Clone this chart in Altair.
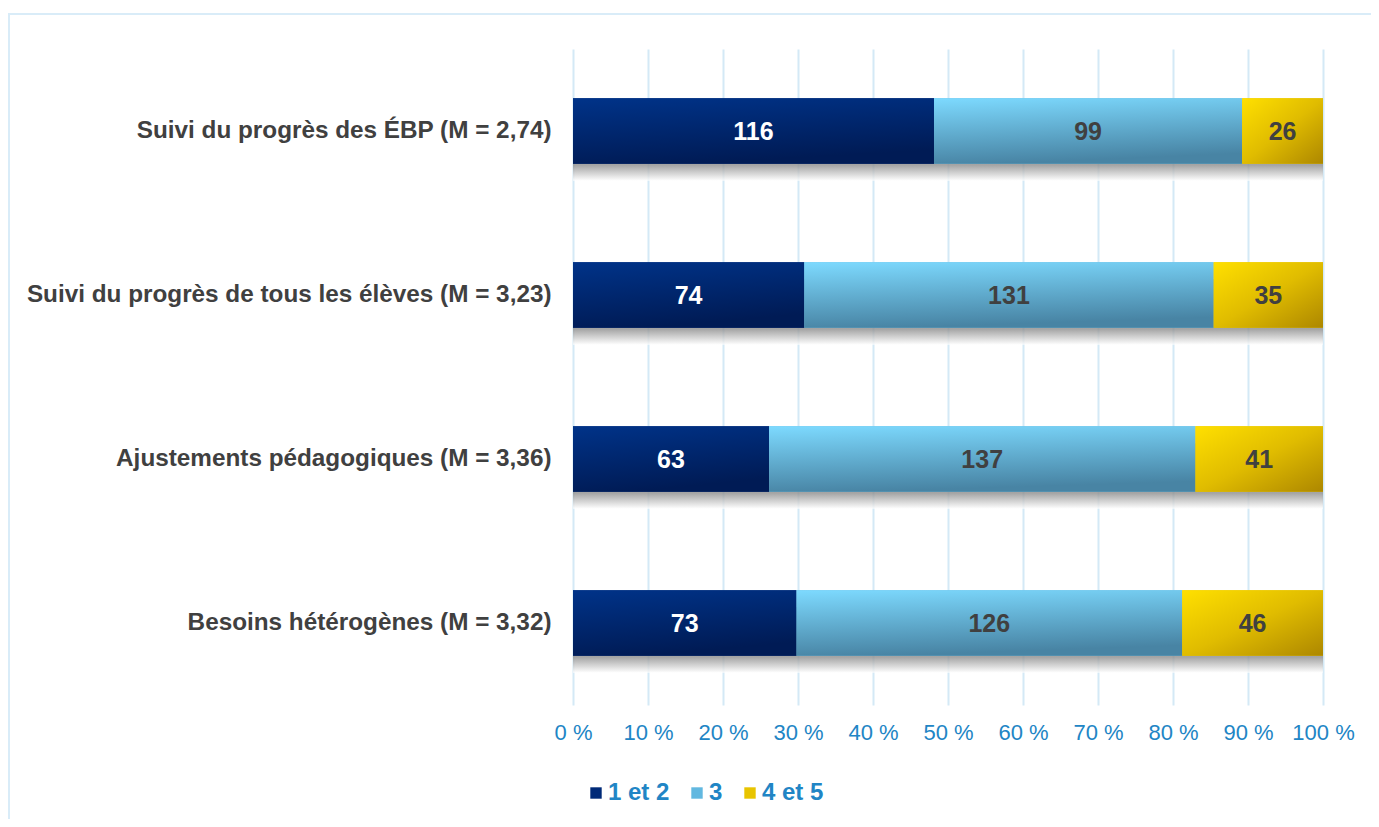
import altair as alt
import pandas as pd

categories = [
    "Suivi du progrès des ÉBP (M = 2,74)",
    "Suivi du progrès de tous les élèves (M = 3,23)",
    "Ajustements pédagogiques (M = 3,36)",
    "Besoins hétérogènes (M = 3,32)",
]
series = ["1 et 2", "3", "4 et 5"]
v_12 = [116, 74, 63, 73]
v_3 = [99, 131, 137, 126]
v_45 = [26, 35, 41, 46]

solid_colors = ["#002a78", "#62b8e0", "#e8c400"]
label_colors = ["#ffffff", "#404040", "#404040"]

rows = []
for i, c in enumerate(categories):
    for j, (s, vals) in enumerate(zip(series, [v_12, v_3, v_45])):
        rows.append({"cat": c, "serie": s, "ord": j, "value": vals[i]})
df = pd.DataFrame(rows)

FONT = "Liberation Sans"
W, H = 750, 656

yenc = alt.Y(
    "cat:N",
    sort=categories,
    title=None,
    scale=alt.Scale(paddingInner=0.6, paddingOuter=0.3),
    axis=alt.Axis(
        labelFont=FONT, labelFontSize=24.3, labelFontWeight="bold",
        labelColor="#404040", labelPadding=22, ticks=False, domain=False,
        grid=False, labelLimit=600,
    ),
)
xscale = alt.Scale(domain=[0, 1])
xaxis = alt.Axis(
    values=[i / 10 for i in range(11)],
    labelExpr="format(datum.value*100, 'd') + ' %'",
    labelFont=FONT, labelFontSize=22, labelColor="#2185c5",
    labelPadding=17, ticks=False, domain=False, labelOverlap=False,
    labelFlush=False, labelBound=False,
    grid=True, gridColor="#d4e9f6", gridWidth=2, title=None,
)


def X(field):
    return alt.X(field, scale=xscale, axis=xaxis, title=None)


base = alt.Chart(df).transform_stack(
    stack="value", groupby=["cat"], as_=["x0", "x1"],
    offset="normalize", sort=[alt.SortField("ord", order="ascending")],
).transform_calculate(xm="(datum.x0 + datum.x1) / 2", zero="0", one="1")

# outer frame
frame = alt.Chart(pd.DataFrame({"a": [0]})).mark_rect(
    fill=None, stroke="#d9ecf8", strokeWidth=2, clip=False
).encode(
    x=alt.value(9 - 573), x2=alt.value(1400 - 573),
    y=alt.value(14 - 49), y2=alt.value(850 - 49),
)

# shadow under each row
shadow_grad = alt.Gradient(
    gradient="linear", x1=0, y1=0, x2=0, y2=1,
    stops=[
        alt.GradientStop(color="#858585", offset=0),
        alt.GradientStop(color="#8e8e8e", offset=0.76),
        alt.GradientStop(color="#ffffff", offset=1),
    ],
)
shadow = base.transform_filter(alt.datum.ord == 0).mark_bar(
    fill=shadow_grad, yOffset=17, opacity=0.8
).encode(
    y=yenc,
    x=X("zero:Q"),
    x2=alt.X2("one:Q"),
)

# base layer for legend
legend_layer = base.mark_bar().encode(
    y=yenc,
    x=X("x0:Q"),
    x2="x1:Q",
    color=alt.Color(
        "serie:N",
        scale=alt.Scale(domain=series, range=solid_colors),
        sort=series,
        legend=alt.Legend(
            title=None, orient="none", legendX=11, legendY=732,
            direction="horizontal", symbolType="square", symbolSize=130,
            symbolStrokeWidth=0, labelFont=FONT, labelFontSize=24,
            labelFontWeight="bold", labelColor="#2185c5", columnPadding=15,
            labelOffset=0,
        ),
    ),
)

grads = [
    alt.Gradient(gradient="linear", x1=0, y1=0, x2=0.3, y2=1, stops=[
        alt.GradientStop(color="#003389", offset=0),
        alt.GradientStop(color="#001b55", offset=1)]),
    alt.Gradient(gradient="linear", x1=0, y1=0, x2=0.2, y2=1, stops=[
        alt.GradientStop(color="#7ddaff", offset=0),
        alt.GradientStop(color="#4884a4", offset=1)]),
    alt.Gradient(gradient="linear", x1=0, y1=0, x2=1, y2=1, stops=[
        alt.GradientStop(color="#ffe000", offset=0),
        alt.GradientStop(color="#e0bc00", offset=0.5),
        alt.GradientStop(color="#ad8700", offset=1)]),
]

layers = [frame, shadow, legend_layer]
for j, g in enumerate(grads):
    layers.append(
        base.transform_filter(alt.datum.ord == j).mark_bar(fill=g).encode(
            y=yenc, x=X("x0:Q"), x2="x1:Q"
        )
    )
for j in range(3):
    layers.append(
        base.transform_filter(alt.datum.ord == j).mark_text(
            font=FONT, fontSize=25, fontWeight="bold", color=label_colors[j],
            align="center", baseline="middle", dy=1,
        ).encode(
            y=yenc, x=X("xm:Q"), text="value:Q"
        )
    )

chart = alt.layer(*layers).properties(
    width=W, height=H,
    autosize=alt.AutoSizeParams(type="none"),
    padding={"left": 565, "top": 41, "right": 48, "bottom": 114},
    background="white",
).configure_view(stroke=None)

chart.save("out.html", embed_options={"renderer": "svg", "actions": False})
